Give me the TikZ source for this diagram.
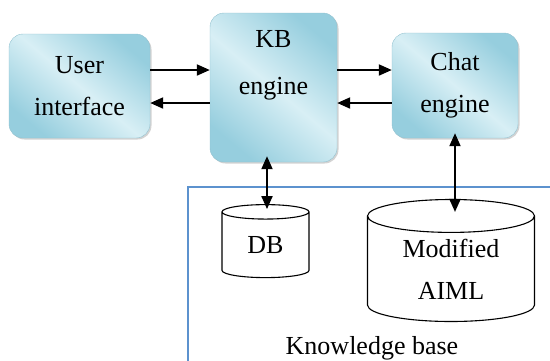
\documentclass[tikz,border=0pt]{standalone}
\usepackage{fontspec}
\setmainfont{Liberation Serif}
\usetikzlibrary{positioning,shapes.geometric,shadows,arrows.meta}
\definecolor{boxdark}{RGB}{150,206,222}
\definecolor{boxlight}{RGB}{216,239,245}
\definecolor{kbblue}{RGB}{92,146,206}
\tikzset{
  engine/.style={rounded corners=14pt, draw=boxdark!85!gray, thin,
    top color=boxdark, bottom color=boxdark, middle color=boxlight, shading angle=-40,
    drop shadow={shadow xshift=1.5pt, shadow yshift=-1.5pt, opacity=.35},
    align=center, inner sep=0pt, font=\rmfamily\fontsize{26}{42}\selectfont},
  store/.style={cylinder, shape border rotate=90, draw, line width=1.1pt,
    align=center, inner sep=0pt, font=\rmfamily\fontsize{26}{42}\selectfont},
  flow/.style={-{Triangle[length=13pt,width=11pt]}, line width=2pt},
  dflow/.style={{Triangle[length=13pt,width=11pt]}-{Triangle[length=13pt,width=11pt]}, line width=2pt},
}
\begin{document}
\begin{tikzpicture}[x=1pt, y=-1pt]
	\useasboundingbox (0,0) rectangle (550,360);
	\clip (0,0) rectangle (550,360);
	% engines
	\node[engine, minimum width=141pt, minimum height=104pt] (ui) at (79.5,86) {User\\interface};
	\node[engine, minimum width=127pt, minimum height=149pt] (kb) at (273.5,87.5) {};
	\node[align=center, inner sep=0pt, font=\rmfamily\fontsize{26}{47}\selectfont, below=17pt of kb.north] (kbtext) {KB\\engine};
	\node[engine, minimum width=126pt, minimum height=105pt] (chat) at (455,85.5) {Chat\\engine};
	% knowledge base
	\draw[kbblue, line width=2pt] (188,187) rectangle (570,380);
	\node[store, minimum width=87pt, minimum height=73pt, aspect=0.4] (db) at (265.5,245) {DB};
	\node[store, minimum width=167pt, minimum height=122pt, aspect=0.34] (aiml) at (451,269) {Modified\\AIML};
	\node[anchor=base, inner sep=0pt, font=\rmfamily\fontsize{26}{30}\selectfont] (kbase) at (372,354) {Knowledge base};
	% connectors
	\draw[flow] ([yshift=16pt]ui.east) -- ([yshift=16pt]ui.east -| kb.west);
	\draw[flow] ([yshift=-17pt]ui.east -| kb.west) -- ([yshift=-17pt]ui.east);
	\draw[flow] ([yshift=15.5pt]chat.west -| kb.east) -- ([yshift=15.5pt]chat.west);
	\draw[flow] ([yshift=-17.5pt]chat.west) -- ([yshift=-17.5pt]chat.west -| kb.east);
	\draw[dflow] ([xshift=1.5pt, yshift=6pt]kb.south -| db.north) -- ([xshift=1.5pt, yshift=-5pt]db.north);
	\draw[dflow] ([yshift=5pt]chat.south) -- ([yshift=-13pt]chat.south |- aiml.north);
\end{tikzpicture}
\end{document}
